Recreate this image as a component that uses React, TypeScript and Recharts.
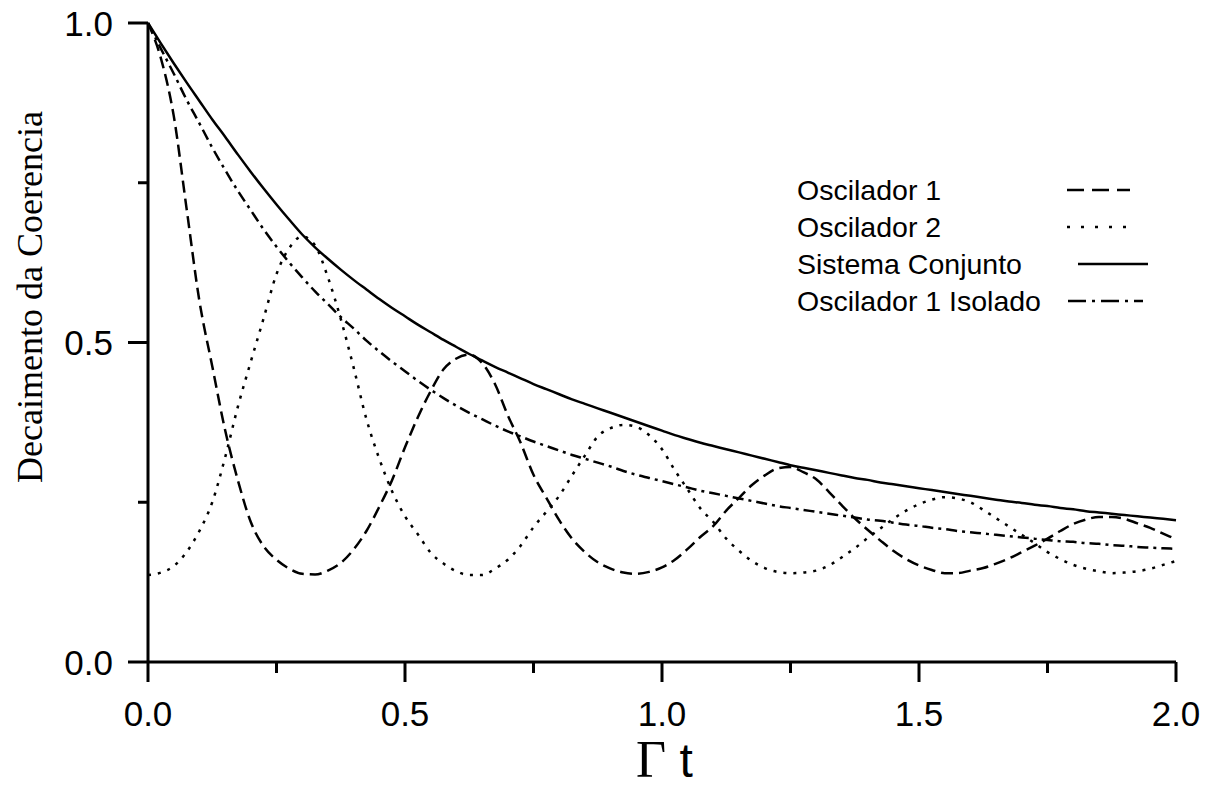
import React from "react";
import { LineChart, Line, XAxis, YAxis, Legend } from "recharts";

const gammaT = [
    0, 0.025, 0.05, 0.075, 0.1, 0.125, 0.15, 0.175, 0.2, 0.225, 0.25, 0.275, 0.3, 0.325, 0.35, 0.375, 0.4, 0.425,
    0.45, 0.475, 0.5, 0.525, 0.55, 0.575, 0.6, 0.625, 0.65, 0.675, 0.7, 0.725, 0.75, 0.775, 0.8, 0.825, 0.85,
    0.875, 0.9, 0.925, 0.95, 0.975, 1.0, 1.025, 1.05, 1.075, 1.1, 1.125, 1.15, 1.175, 1.2, 1.225, 1.25, 1.275,
    1.3, 1.325, 1.35, 1.375, 1.4, 1.425, 1.45, 1.475, 1.5, 1.525, 1.55, 1.575, 1.6, 1.625, 1.65, 1.675, 1.7,
    1.725, 1.75, 1.775, 1.8, 1.825, 1.85, 1.875, 1.9, 1.925, 1.95, 1.975, 2.0
];

const oscilador1 = [
    1.0, 0.945, 0.855, 0.71, 0.565, 0.463, 0.363, 0.284, 0.219, 0.181, 0.16, 0.146, 0.138, 0.137, 0.143, 0.155,
    0.176, 0.205, 0.243, 0.285, 0.336, 0.383, 0.424, 0.458, 0.475, 0.481, 0.468, 0.435, 0.386, 0.343, 0.293,
    0.257, 0.222, 0.193, 0.172, 0.156, 0.146, 0.14, 0.138, 0.141, 0.148, 0.16, 0.177, 0.196, 0.213, 0.237,
    0.257, 0.277, 0.292, 0.303, 0.305, 0.297, 0.286, 0.266, 0.245, 0.225, 0.207, 0.19, 0.174, 0.161, 0.151,
    0.144, 0.139, 0.139, 0.143, 0.147, 0.154, 0.162, 0.172, 0.182, 0.193, 0.205, 0.216, 0.223, 0.227, 0.227,
    0.224, 0.217, 0.21, 0.201, 0.192
];

const oscilador2 = [
    0.136, 0.14, 0.15, 0.172, 0.205, 0.25, 0.32, 0.4, 0.47, 0.538, 0.607, 0.648, 0.666, 0.652, 0.602, 0.537,
    0.461, 0.38, 0.318, 0.267, 0.228, 0.2, 0.171, 0.154, 0.142, 0.136, 0.136, 0.146, 0.16, 0.182, 0.211, 0.235,
    0.26, 0.292, 0.323, 0.353, 0.366, 0.371, 0.368, 0.355, 0.333, 0.3, 0.27, 0.24, 0.219, 0.193, 0.174, 0.158,
    0.147, 0.141, 0.139, 0.14, 0.143, 0.151, 0.164, 0.178, 0.194, 0.209, 0.224, 0.237, 0.247, 0.254, 0.258,
    0.256, 0.25, 0.238, 0.225, 0.212, 0.199, 0.186, 0.172, 0.161, 0.152, 0.146, 0.142, 0.139, 0.14, 0.142,
    0.146, 0.152, 0.158
];

const sistemaConjunto = [
    1.0, 0.968, 0.937, 0.907, 0.878, 0.849, 0.822, 0.794, 0.767, 0.741, 0.716, 0.692, 0.669, 0.649, 0.631,
    0.614, 0.598, 0.583, 0.568, 0.554, 0.541, 0.528, 0.516, 0.504, 0.493, 0.482, 0.472, 0.462, 0.453, 0.444,
    0.435, 0.427, 0.419, 0.411, 0.404, 0.397, 0.39, 0.383, 0.376, 0.369, 0.362, 0.355, 0.349, 0.343, 0.338,
    0.333, 0.328, 0.323, 0.318, 0.313, 0.308, 0.304, 0.3, 0.296, 0.292, 0.288, 0.285, 0.281, 0.278, 0.275,
    0.272, 0.269, 0.266, 0.263, 0.26, 0.257, 0.254, 0.251, 0.249, 0.246, 0.244, 0.241, 0.239, 0.236, 0.234,
    0.232, 0.23, 0.228, 0.226, 0.224, 0.222
];

const oscilador1Isolado = [
    1.0, 0.96, 0.921, 0.88, 0.843, 0.805, 0.77, 0.737, 0.707, 0.677, 0.65, 0.625, 0.602, 0.58, 0.56, 0.54, 0.522,
    0.503, 0.486, 0.47, 0.455, 0.44, 0.426, 0.413, 0.401, 0.39, 0.38, 0.37, 0.361, 0.353, 0.345, 0.338, 0.331,
    0.324, 0.318, 0.312, 0.306, 0.299, 0.293, 0.288, 0.283, 0.278, 0.273, 0.268, 0.264, 0.26, 0.256, 0.252,
    0.248, 0.244, 0.241, 0.238, 0.235, 0.232, 0.229, 0.226, 0.223, 0.221, 0.218, 0.215, 0.213, 0.21, 0.208,
    0.205, 0.203, 0.201, 0.199, 0.197, 0.195, 0.193, 0.191, 0.189, 0.188, 0.186, 0.185, 0.183, 0.182, 0.18,
    0.179, 0.178, 0.177
];

const xTicks = [0, 0.25, 0.5, 0.75, 1.0, 1.25, 1.5, 1.75, 2.0];
const yTicks = [0, 0.25, 0.5, 0.75, 1.0];

const data = gammaT.map((t, i) => ({
    t,
    osc1: oscilador1[i],
    osc2: oscilador2[i],
    conjunto: sistemaConjunto[i],
    isolado: oscilador1Isolado[i]
}));

const SANS = "'Liberation Sans', Arial, sans-serif";
const SERIF = "'Liberation Serif', 'Times New Roman', serif";

const isMajor = (v: number) => Math.abs(v * 2 - Math.round(v * 2)) < 1e-6;

const XTick = (props: any) => {
    const { x, y, payload } = props;
    const major = isMajor(payload.value);
    return (
        <g>
            <line x1={x} y1={y} x2={x} y2={y + (major ? 20 : 11)} stroke="#000" strokeWidth={3} />
            {major && (
                <text x={x} y={y + 64} textAnchor="middle" fontSize={35} fontFamily={SANS} fill="#000">
                    {payload.value.toFixed(1)}
                </text>
            )}
        </g>
    );
};

const YTick = (props: any) => {
    const { x, y, payload } = props;
    const major = isMajor(payload.value);
    return (
        <g>
            <line x1={x - (major ? 20 : 10)} y1={y} x2={x} y2={y} stroke="#000" strokeWidth={3} />
            {major && (
                <text x={x - 35} y={y + 12.5} textAnchor="end" fontSize={35} fontFamily={SANS} fill="#000">
                    {payload.value.toFixed(1)}
                </text>
            )}
        </g>
    );
};

// legend samples: [label, dasharray, x start, x end]
const legendRows: [string, string, number, number][] = [
    ["Oscilador 1", "17 8", 287, 350],
    ["Oscilador 2", "3 11", 287, 350],
    ["Sistema Conjunto", "", 298, 368],
    ["Oscilador 1 Isolado", "18 6 3 6", 288, 363]
];

const renderLegend = () => (
    <svg width={420} height={160}>
        {legendRows.map(([label, dash, x1, x2], i) => (
            <g key={label}>
                <text x={17} y={35 + i * 37} fontSize={28.5} fontFamily={SANS} fill="#000">
                    {label}
                </text>
                <line
                    x1={x1}
                    x2={x2}
                    y1={25 + i * 37}
                    y2={25 + i * 37}
                    stroke="#000"
                    strokeWidth={2.5}
                    strokeDasharray={dash || undefined}
                />
            </g>
        ))}
    </svg>
);

export default function App() {
    return (
        <div style={{ position: "absolute", left: 0, top: 0, width: 1229, height: 789, background: "#fff" }}>
            <LineChart width={1229} height={789} data={data} margin={{ top: 23, right: 53, bottom: 0, left: 0 }}>
                <XAxis
                    dataKey="t"
                    type="number"
                    domain={[0, 2]}
                    ticks={xTicks}
                    interval={0}
                    height={127}
                    tickSize={0}
                    tickMargin={0}
                    tickLine={false}
                    tick={<XTick />}
                    axisLine={{ stroke: "#000", strokeWidth: 3 }}
                    label={{
                        content: () => (
                            <text x={636} y={777} textAnchor="start" fill="#000">
                                <tspan fontFamily={SERIF} fontSize={52}>Γ</tspan>
                                <tspan fontFamily={SANS} fontSize={48}> t</tspan>
                            </text>
                        )
                    }}
                />
                <YAxis
                    type="number"
                    domain={[0, 1]}
                    ticks={yTicks}
                    interval={0}
                    width={148}
                    tickSize={0}
                    tickMargin={0}
                    tickLine={false}
                    tick={<YTick />}
                    axisLine={{ stroke: "#000", strokeWidth: 3 }}
                    label={{
                        content: () => (
                            <text
                                x={42}
                                y={297}
                                textAnchor="middle"
                                transform="rotate(-90, 42, 297)"
                                fontSize={36}
                                fontFamily={SERIF}
                                fill="#000"
                            >
                                Decaimento da Coerencia
                            </text>
                        )
                    }}
                />
                <Legend
                    layout="horizontal"
                    verticalAlign="middle"
                    align="center"
                    content={renderLegend}
                    wrapperStyle={{ position: "absolute", left: 780, top: 165, width: 420, height: 160 }}
                />
                <Line
                    name="Oscilador 1"
                    dataKey="osc1"
                    type="monotone"
                    stroke="#000"
                    strokeWidth={2.5}
                    strokeDasharray="12 6"
                    dot={false}
                    activeDot={false}
                    isAnimationActive={false}
                />
                <Line
                    name="Oscilador 2"
                    dataKey="osc2"
                    type="monotone"
                    stroke="#000"
                    strokeWidth={2.5}
                    strokeDasharray="3 7"
                    dot={false}
                    activeDot={false}
                    isAnimationActive={false}
                />
                <Line
                    name="Sistema Conjunto"
                    dataKey="conjunto"
                    type="monotone"
                    stroke="#000"
                    strokeWidth={2.5}
                    dot={false}
                    activeDot={false}
                    isAnimationActive={false}
                />
                <Line
                    name="Oscilador 1 Isolado"
                    dataKey="isolado"
                    type="monotone"
                    stroke="#000"
                    strokeWidth={2.5}
                    strokeDasharray="11 5 3 5"
                    dot={false}
                    activeDot={false}
                    isAnimationActive={false}
                />
            </LineChart>
        </div>
    );
}
